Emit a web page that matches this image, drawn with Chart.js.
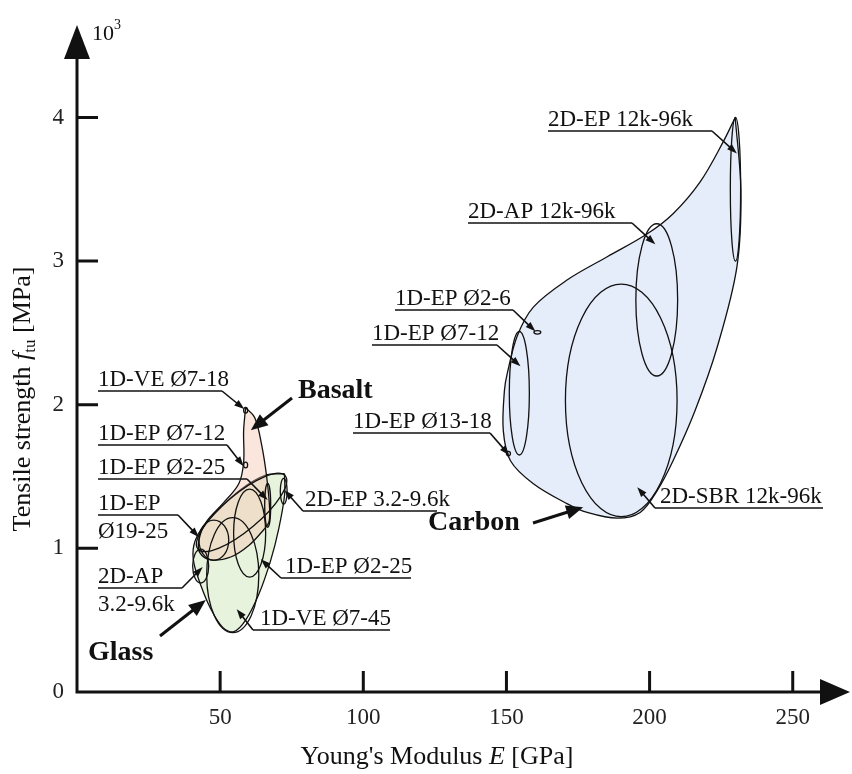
<!DOCTYPE html>
<html lang="en">
<head>
<meta charset="UTF-8">
<title>Tensile strength vs Young's modulus</title>
<script src="https://cdn.jsdelivr.net/npm/chart.js"></script>
<style>
  body { margin: 0; background: #fff; }
  #wrap { width: 852px; height: 774px; }
</style>
</head>
<body>
<div id="wrap"><canvas id="ashby" width="852" height="774"></canvas></div>
<script>
// tick values (strength in 10^3 MPa)
const xTicks = [50, 100, 150, 200, 250];
const yTicks = [0, 1, 2, 3, 4];

// material envelopes: E [GPa], f_tu [10^3 MPa]
const carbonE = [229.9, 231.9, 230.5, 223.6, 215.9, 208.2, 202.6, 196.7, 188.7, 178.2, 171.3, 159.4, 151.4, 148.9, 149.3, 150.3, 153.8, 159.4, 171.3, 185.2, 199.2, 208.2, 217.6, 225.7, 229.9];
const carbonF = [4.00, 3.49, 2.96, 2.40, 1.96, 1.61, 1.40, 1.25, 1.21, 1.25, 1.31, 1.45, 1.61, 1.82, 2.10, 2.22, 2.48, 2.68, 2.87, 3.03, 3.19, 3.33, 3.55, 3.83, 4.00];
const basaltE = [58.9, 62.1, 64.5, 66.3, 67.3, 67.0, 65.2, 60.0, 53.7, 46.7, 42.9, 42.6, 45.0, 51.3, 56.5, 58.2, 58.2, 58.9];
const basaltF = [1.98, 1.91, 1.72, 1.49, 1.27, 1.18, 1.13, 1.02, 0.94, 0.92, 0.97, 1.06, 1.18, 1.32, 1.45, 1.60, 1.82, 1.98];
const glassE = [72.5, 72.5, 70.5, 67.7, 63.5, 58.9, 54.8, 50.9, 46.7, 43.3, 40.8, 40.8, 43.3, 48.5, 57.2, 65.9, 72.5];
const glassF = [1.52, 1.37, 1.14, 0.92, 0.68, 0.50, 0.42, 0.45, 0.58, 0.74, 0.90, 1.02, 1.13, 1.25, 1.41, 1.51, 1.52];

// product families: centre and half-extent, tilt in degrees
const famE  = [230.0, 202.5, 190.1, 154.5, 160.8, 150.7, 58.9, 58.9, 66.6, 57.5, 47.8, 43.2, 60.3, 54.4, 72.2];
const famF  = [3.50, 2.73, 2.03, 2.08, 2.504, 1.66, 1.962, 1.58, 1.30, 1.25, 1.057, 0.877, 1.106, 0.814, 1.398];
const famdE = [1.8, 7.3, 19.5, 3.5, 1.2, 0.7, 0.7, 0.7, 1.05, 19.9, 5.2, 2.8, 5.6, 9.1, 1.2];
const famdF = [0.50, 0.53, 0.81, 0.43, 0.012, 0.015, 0.02, 0.02, 0.153, 0.125, 0.14, 0.118, 0.306, 0.40, 0.09];
const famTilt = [0, 0, 0, 0, 0, 0, 0, 0, 0, -40, 0, 0, 0, 0, 0];

// callouts: text lines and the point each arrow points at
const calloutText = [
  ['1D-VE Ø7-18'], ['1D-EP Ø7-12'], ['1D-EP Ø2-25'], ['1D-EP', 'Ø19-25'], ['2D-AP', '3.2-9.6k'],
  ['2D-EP 3.2-9.6k'], ['1D-EP Ø2-25'], ['1D-VE Ø7-45'],
  ['2D-EP 12k-96k'], ['2D-AP 12k-96k'], ['1D-EP Ø2-6'], ['1D-EP Ø7-12'], ['1D-EP Ø13-18'], ['2D-SBR 12k-96k']
];
const calloutTipE = [58.4, 58.2, 66.6, 42.6, 43.9, 72.5, 64.2, 55.8, 230.5, 202.0, 160.1, 154.9, 151.0, 195.7];
const calloutTipF = [1.97, 1.572, 1.336, 1.078, 0.870, 1.405, 0.925, 0.577, 3.75, 3.117, 2.511, 2.268, 1.649, 1.426];

// material names with their arrows
const materialName = ['Basalt', 'Glass', 'Carbon'];
const materialTipE = [60.7, 45.0, 176.8];
const materialTipF = [1.823, 0.640, 1.287];

// where the callout text sits (pixels): text x, underline y, underline span, joint side
const calloutLayout = [
  { x: 98, ly: 391, a: 98, b: 222, side: 'r' },
  { x: 98, ly: 445, a: 98, b: 227, side: 'r' },
  { x: 98, ly: 479, a: 98, b: 247, side: 'r' },
  { x: 98, ly: 515, a: 98, b: 178, side: 'r' },
  { x: 98, ly: 588, a: 98, b: 182, side: 'r' },
  { x: 305, ly: 511, a: 303, b: 437, side: 'l' },
  { x: 285, ly: 578, a: 281, b: 411, side: 'l' },
  { x: 260, ly: 630, a: 253, b: 390, side: 'l' },
  { x: 548, ly: 131, a: 548, b: 712, side: 'r' },
  { x: 468, ly: 223, a: 468, b: 632, side: 'r' },
  { x: 395, ly: 310, a: 395, b: 513, side: 'r' },
  { x: 372, ly: 345, a: 372, b: 497, side: 'r' },
  { x: 353, ly: 433, a: 353, b: 490, side: 'r' },
  { x: 660, ly: 508, a: 655, b: 823, side: 'l' }
];
const materialLayout = [
  { x: 298, y: 398, tail: [292, 398] },
  { x: 88, y: 660, tail: [160, 636] },
  { x: 428, y: 530, tail: [533, 523] }
];

const SERIF = "'Liberation Serif', 'Times New Roman', serif";
Chart.defaults.font.family = SERIF;

function pts(xs, ys) {
  return xs.map((v, i) => ({ x: v, y: ys[i] }));
}

function arrowHead(ctx, x0, y0, x1, y1, len, half) {
  const a = Math.atan2(y1 - y0, x1 - x0);
  const c = Math.cos(a), s = Math.sin(a);
  ctx.beginPath();
  ctx.moveTo(x1, y1);
  ctx.lineTo(x1 - len * c + half * s, y1 - len * s - half * c);
  ctx.lineTo(x1 - len * c - half * s, y1 - len * s + half * c);
  ctx.closePath();
  ctx.fill();
}

function arrow(ctx, x0, y0, x1, y1, len, half) {
  const a = Math.atan2(y1 - y0, x1 - x0);
  ctx.beginPath();
  ctx.moveTo(x0, y0);
  ctx.lineTo(x1 - len * 0.8 * Math.cos(a), y1 - len * 0.8 * Math.sin(a));
  ctx.stroke();
  arrowHead(ctx, x0, y0, x1, y1, len, half);
}

// ellipses for the product families
const familyPlugin = {
  id: 'families',
  afterDatasetsDraw(chart) {
    const { ctx, scales: { x, y } } = chart;
    ctx.save();
    ctx.strokeStyle = '#111';
    ctx.lineWidth = 1.3;
    famE.forEach((e, i) => {
      const cx = x.getPixelForValue(e);
      const cy = y.getPixelForValue(famF[i]);
      const rx = Math.abs(x.getPixelForValue(e + famdE[i]) - cx);
      const ry = Math.abs(y.getPixelForValue(famF[i] + famdF[i]) - cy);
      ctx.beginPath();
      ctx.ellipse(cx, cy, rx, ry, famTilt[i] * Math.PI / 180, 0, Math.PI * 2);
      ctx.stroke();
    });
    ctx.restore();
  }
};

// axes with arrows, inward ticks, titles, callouts
const decorPlugin = {
  id: 'decor',
  afterDraw(chart) {
    const { ctx, chartArea: ca, scales: { x, y } } = chart;
    const x0 = x.getPixelForValue(0), y0 = y.getPixelForValue(0);
    ctx.save();
    ctx.fillStyle = '#111';
    ctx.strokeStyle = '#111';

    // axis lines and arrow heads
    ctx.lineWidth = 3;
    ctx.beginPath();
    ctx.moveTo(x0, y0 + 1.5);
    ctx.lineTo(x0, ca.top + 20);
    ctx.moveTo(x0 - 1.5, y0);
    ctx.lineTo(ca.right - 20, y0);
    ctx.stroke();
    arrowHead(ctx, x0, y0, x0, ca.top - 2, 34, 13);
    arrowHead(ctx, x0, y0, ca.right, y0, 30, 13);

    // inward tick marks
    ctx.beginPath();
    xTicks.forEach(v => {
      const px = x.getPixelForValue(v);
      ctx.moveTo(px, y0);
      ctx.lineTo(px, y0 - 21);
    });
    yTicks.slice(1).forEach(v => {
      const py = y.getPixelForValue(v);
      ctx.moveTo(x0, py);
      ctx.lineTo(x0 + 21, py);
    });
    ctx.stroke();

    // 10^3 multiplier
    ctx.textBaseline = 'alphabetic';
    ctx.textAlign = 'left';
    ctx.font = '22px ' + SERIF;
    ctx.fillText('10', 92, 40);
    ctx.font = '14px ' + SERIF;
    ctx.fillText('3', 114, 29);

    // x title
    const xParts = [["Young's Modulus ", ''], ['E', 'italic '], [' [GPa]', '']];
    let w = 0;
    xParts.forEach(p => { ctx.font = p[1] + '26px ' + SERIF; w += ctx.measureText(p[0]).width; });
    let cx = 437 - w / 2;
    xParts.forEach(p => {
      ctx.font = p[1] + '26px ' + SERIF;
      ctx.fillText(p[0], cx, 764);
      cx += ctx.measureText(p[0]).width;
    });

    // y title, rotated
    ctx.save();
    ctx.translate(30, 399);
    ctx.rotate(-Math.PI / 2);
    const yParts = [['Tensile strength ', '', 26, 0], ['f', 'italic ', 26, 0], ['tu', '', 17, 5], [' [MPa]', '', 26, 0]];
    w = 0;
    yParts.forEach(p => { ctx.font = p[1] + p[2] + 'px ' + SERIF; w += ctx.measureText(p[0]).width; });
    cx = -w / 2;
    yParts.forEach(p => {
      ctx.font = p[1] + p[2] + 'px ' + SERIF;
      ctx.fillText(p[0], cx, p[3]);
      cx += ctx.measureText(p[0]).width;
    });
    ctx.restore();

    // callouts
    ctx.font = '23px ' + SERIF;
    ctx.lineWidth = 1.6;
    calloutText.forEach((lines, i) => {
      const L = calloutLayout[i];
      ctx.fillText(lines[0], L.x, L.ly - 5);
      if (lines[1]) ctx.fillText(lines[1], L.x, L.ly + 23);
      const tx = x.getPixelForValue(calloutTipE[i]);
      const ty = y.getPixelForValue(calloutTipF[i]);
      const jx = L.side === 'r' ? L.b : L.a;
      ctx.beginPath();
      ctx.moveTo(L.a, L.ly);
      ctx.lineTo(L.b, L.ly);
      ctx.stroke();
      arrow(ctx, jx, L.ly, tx, ty, 10, 3.5);
    });

    // material names
    ctx.font = 'bold 28px ' + SERIF;
    ctx.lineWidth = 3;
    materialName.forEach((name, i) => {
      const M = materialLayout[i];
      ctx.fillText(name, M.x, M.y);
      arrow(ctx, M.tail[0], M.tail[1], x.getPixelForValue(materialTipE[i]), y.getPixelForValue(materialTipF[i]), 17, 7);
    });
    ctx.restore();
  }
};

const envelope = (label, xs, ys, fill) => ({
  label: label,
  data: pts(xs, ys),
  fill: 'shape',
  backgroundColor: fill,
  borderColor: '#111',
  borderWidth: 1.3,
  tension: 0.35,
  pointRadius: 0
});

new Chart(document.getElementById('ashby'), {
  type: 'line',
  data: {
    datasets: [
      envelope('Basalt', basaltE, basaltF, 'rgba(245,192,170,0.4)'),
      envelope('Glass', glassE, glassF, 'rgb(232,243,222)'),
      envelope('Carbon', carbonE, carbonF, 'rgb(230,237,250)')
    ]
  },
  options: {
    responsive: false,
    animation: false,
    events: [],
    layout: { padding: { top: 27, right: 2, left: 0, bottom: 0 } },
    plugins: { legend: { display: false }, tooltip: { enabled: false } },
    scales: {
      x: {
        type: 'linear', min: 0, max: 270,
        grid: { display: false, drawTicks: false },
        border: { display: false },
        afterBuildTicks: s => { s.ticks = xTicks.map(v => ({ value: v })); },
        afterFit: s => { s.height = 82; },
        ticks: { color: '#222', padding: 12, font: { size: 23 }, maxRotation: 0 }
      },
      y: {
        type: 'linear', min: 0, max: 4.63,
        grid: { display: false, drawTicks: false },
        border: { display: false },
        afterBuildTicks: s => { s.ticks = yTicks.map(v => ({ value: v })); },
        afterFit: s => { s.width = 77; },
        ticks: { color: '#222', padding: 13, font: { size: 23 } }
      }
    }
  },
  plugins: [familyPlugin, decorPlugin]
});
</script>
</body>
</html>
